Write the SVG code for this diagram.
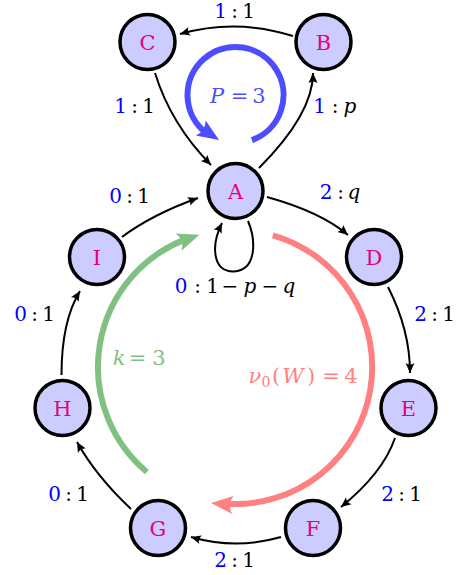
<svg xmlns="http://www.w3.org/2000/svg" xmlns:xlink="http://www.w3.org/1999/xlink" width="474" height="575" viewBox="0 0 474 575">
<style>
.node circle{fill:#ccccff;stroke:#000;stroke-width:3.5}
.node text{font-family:"DejaVu Serif",serif;font-size:21px;fill:#e6007e;text-anchor:middle}
.edge{fill:none;stroke:#000;stroke-width:2;marker-end:url(#ah)}
.lbl text{font-family:"DejaVu Serif",serif;font-size:20px;fill:#000;text-anchor:middle}
.n{fill:#0000ff}
.it{font-style:italic}
</style>
<defs>
<marker id="ah" viewBox="-11 -6 12 12" refX="0" refY="0" markerWidth="12" markerHeight="12" markerUnits="userSpaceOnUse" orient="auto">
<path d="M0,0 L-10,-4.5 Q-7,0 -10,4.5 Z" fill="#000"/>
</marker>
<path id="bh" d="M0,0 L-22,-9 Q-16,0 -22,9 Z"/>
</defs>

<g id="cycles">
<path d="M251.9,140.1 A48,48 0 1 0 205.95,132.8" fill="none" stroke="#4d4dff" stroke-width="6"/>
<use xlink:href="#bh" transform="translate(219.1,140.1) rotate(33.3)" fill="#4d4dff"/>
<path d="M146.9,472 A137,137 0 0 1 185.2,239.4" fill="none" stroke="#80c080" stroke-width="6"/>
<use xlink:href="#bh" transform="translate(199.5,234.7) rotate(-19.5)" fill="#80c080"/>
<path d="M272.8,235.3 A137,137 0 0 1 227.1,503.8" fill="none" stroke="#ff8080" stroke-width="6"/>
<use xlink:href="#bh" transform="translate(211,503) rotate(185)" fill="#ff8080"/>
</g>

<g id="connectors">
<path class="edge" d="M259,168 Q313,114 313,73"/>
<path class="edge" d="M293,36 Q236,18 180,34"/>
<path class="edge" d="M155,73 Q171,124.5 211,165"/>
<path class="edge" d="M267,197 Q321,212 348,235"/>
<path class="edge" d="M388,287 Q410,330 410,373"/>
<path class="edge" d="M395,438 Q383,473 341,507"/>
<path class="edge" d="M281,537 Q236,550 191,537"/>
<path class="edge" d="M131,509 Q96,476 77,442"/>
<path class="edge" d="M61.5,375 Q61.5,321 80,291"/>
<path class="edge" d="M122,237 Q152,214.5 198,198"/>
<path class="edge" d="M248,221 C256,240 257,270 234,271.5 C212,272 211,245 222,223"/>
</g>

<g id="A" class="node"><circle cx="235.5" cy="191" r="27.5"/><text x="235.5" y="198.5">A</text></g>
<g id="B" class="node"><circle cx="323.5" cy="42" r="27.5"/><text x="323.5" y="49.5">B</text></g>
<g id="C" class="node"><circle cx="147.5" cy="42" r="27.5"/><text x="147.5" y="49.5">C</text></g>
<g id="D" class="node"><circle cx="374" cy="257" r="27.5"/><text x="374" y="264.5">D</text></g>
<g id="E" class="node"><circle cx="408.5" cy="408" r="27.5"/><text x="408.5" y="415.5">E</text></g>
<g id="F" class="node"><circle cx="313" cy="528" r="27.5"/><text x="313" y="535.5">F</text></g>
<g id="G" class="node"><circle cx="158" cy="528" r="27.5"/><text x="158" y="535.5">G</text></g>
<g id="H" class="node"><circle cx="62.5" cy="408" r="27.5"/><text x="62.5" y="415.5">H</text></g>
<g id="I" class="node"><circle cx="97" cy="257" r="27.5"/><text x="97" y="264.5">I</text></g>

<g id="labels" class="lbl">
<text y="18"><tspan x="220.5" class="n">1</tspan><tspan x="234.5">:</tspan><tspan x="248.5">1</tspan></text>
<text y="113"><tspan x="120.5" class="n">1</tspan><tspan x="134.5">:</tspan><tspan x="148.5">1</tspan></text>
<text y="113"><tspan x="319.5" class="n">1</tspan><tspan x="335">:</tspan><tspan x="350" class="it">p</tspan></text>
<text y="103" style="fill:#4d4dff;font-size:21px"><tspan x="217" class="it">P</tspan><tspan x="239.5">=</tspan><tspan x="259">3</tspan></text>
<text y="203"><tspan x="115.5" class="n">0</tspan><tspan x="129.5">:</tspan><tspan x="143.5">1</tspan></text>
<text y="199"><tspan x="326" class="n">2</tspan><tspan x="340.5">:</tspan><tspan x="354" class="it">q</tspan></text>
<text y="293"><tspan x="181" class="n">0</tspan><tspan x="197.5">:</tspan><tspan x="212.5">1</tspan><tspan x="230">−</tspan><tspan x="250" class="it">p</tspan><tspan x="270">−</tspan><tspan x="289" class="it">q</tspan></text>
<text y="321"><tspan x="420.5" class="n">2</tspan><tspan x="434.5">:</tspan><tspan x="448.5">1</tspan></text>
<text y="321"><tspan x="20.5" class="n">0</tspan><tspan x="34.5">:</tspan><tspan x="48.5">1</tspan></text>
<text y="365" style="fill:#80c080;font-size:21px"><tspan x="119" class="it">k</tspan><tspan x="137.5">=</tspan><tspan x="159">3</tspan></text>
<text y="383" style="fill:#ff8080;font-size:21px"><tspan x="255" class="it">ν</tspan><tspan x="266" y="387" style="font-size:14px">0</tspan><tspan x="276" y="383">(</tspan><tspan x="293" class="it">W</tspan><tspan x="311">)</tspan><tspan x="331">=</tspan><tspan x="351">4</tspan></text>
<text y="501"><tspan x="387.5" class="n">2</tspan><tspan x="401.5">:</tspan><tspan x="415.5">1</tspan></text>
<text y="501"><tspan x="54.5" class="n">0</tspan><tspan x="68.5">:</tspan><tspan x="82.5">1</tspan></text>
<text y="567"><tspan x="220.5" class="n">2</tspan><tspan x="234.5">:</tspan><tspan x="248.5">1</tspan></text>
</g>
</svg>
